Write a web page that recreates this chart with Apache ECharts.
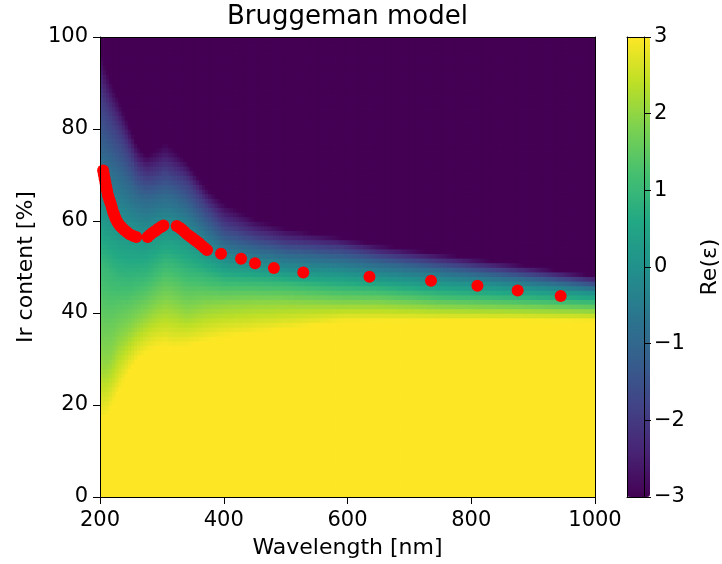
<!DOCTYPE html>
<html><head><meta charset="utf-8">
<script src="https://cdn.jsdelivr.net/npm/echarts@6/dist/echarts.min.js"></script>
<style>html,body{margin:0;padding:0;background:#fff}#chart{width:722px;height:564px}</style>
</head><body><div id="chart"></div>
<script>
// ---- axis / tick data ----
const xTickValues = [200, 400, 600, 800, 1000];
const yTickValues = [0, 20, 40, 60, 80, 100];
const colorbarTicks = [-3, -2, -1, 0, 1, 2, 3];

const levelValues = [3, 2, 1, 0, -1, -2, -3];
const sampleWavelengths = [200, 210, 220, 230, 245, 260, 275, 290, 305, 320, 340, 370, 400, 450, 500, 590, 650, 750, 870, 1000];
const irAtPlus3  = [17, 17.5, 20, 23, 27, 30, 31.5, 32.5, 33, 32.5, 33, 34, 35, 35.8, 36.7, 38.3, 38.4, 38.5, 38.5, 38.4];
const irAtPlus2  = [30, 29, 31, 34, 36, 38, 39.5, 41, 42, 41.5, 40.3, 41.5, 42, 42.3, 42.3, 42, 42, 41.3, 41, 40.5];
const irAtPlus1  = [51, 50, 48.5, 47.5, 47, 47.5, 48, 49.5, 51, 50.5, 49, 48, 47, 46.8, 46.5, 45.5, 45.2, 44, 43.3, 42.5];
const irAtZero   = [63, 62, 61, 60, 59, 58, 57.5, 58.5, 59, 58.5, 57.5, 54, 51.5, 50.5, 49.5, 49, 48, 47, 45.8, 44.5];
const irAtMinus1 = [75, 74, 72.5, 71, 68.5, 66, 65, 65.5, 66, 65.5, 63.5, 59, 55.5, 54, 53, 52, 51, 49.5, 47.8, 45.8];
const irAtMinus2 = [88, 85, 82.5, 80, 76, 71.5, 70, 70.5, 71.5, 70.5, 69, 64, 59.5, 57, 55.5, 54.5, 53, 51.3, 49.3, 47];
const irAtMinus3 = [97, 93, 89.5, 86.5, 81.5, 76.5, 74.3, 75.5, 77, 75.5, 73, 67.5, 64, 60.5, 58.5, 56.5, 55, 53, 50.8, 48.2];

// ---- red markers: wavelength [nm] and Ir content [%] ----
const dotWavelength = [205, 206.2, 207.5, 208.8, 210.2, 211.5, 212.9, 214.5, 216, 217.5, 219.2, 221, 222.8, 224.5, 226.3, 228.5, 231, 233.5, 236.5, 239.8, 243.5, 248, 253, 258.5,
  277, 281, 285.5, 290, 294, 298.5, 302.5,
  324, 328, 332, 336, 340, 344, 348, 352, 356, 360, 364, 368.5, 373,
  395.6, 428, 450.5, 481, 528.5, 635.5, 735, 810, 875, 944.5];
const dotIr = [71.0, 70.1, 69.2, 68.3, 67.4, 66.5, 65.6, 64.9, 64.3, 63.7, 62.9, 62.0, 61.4, 60.8, 60.2, 59.7, 59.2, 58.8, 58.4, 58.0, 57.6, 57.1, 56.8, 56.5,
  56.5, 57.0, 57.5, 57.9, 58.3, 58.7, 59.0,
  58.9, 58.6, 58.2, 57.7, 57.2, 56.8, 56.4, 56.0, 55.6, 55.2, 54.7, 54.2, 53.7,
  52.9, 51.8, 50.8, 49.8, 48.8, 47.9, 47.0, 45.9, 44.9, 43.7];

const viridis = ['#440154','#482475','#414487','#355f8d','#2a788e','#21918c','#22a884','#44bf70','#7ad151','#bddf26','#fde725'];
const FONT = 'DejaVu Sans';
const minus = s => String(s).replace('-', '\u2212');

// build cell table (5 nm x 1 % cells) from the contour readings
const contourRows = [irAtPlus3, irAtPlus2, irAtPlus1, irAtZero, irAtMinus1, irAtMinus2, irAtMinus3];
function atWavelength(arr, lam) {
  for (let i = 0; i < sampleWavelengths.length - 1; i++) {
    const a = sampleWavelengths[i], b = sampleWavelengths[i + 1];
    if (lam >= a && lam <= b) { const t = (lam - a) / (b - a); return arr[i] + t * (arr[i + 1] - arr[i]); }
  }
  return arr[arr.length - 1];
}
function valueAt(bounds, f) {
  if (f <= bounds[0]) return levelValues[0];
  for (let k = 0; k < bounds.length - 1; k++) {
    if (f <= bounds[k + 1]) { const t = (f - bounds[k]) / (bounds[k + 1] - bounds[k]); return levelValues[k] + t * (levelValues[k + 1] - levelValues[k]); }
  }
  return levelValues[levelValues.length - 1];
}
const cells = [];
for (let lam = 200; lam < 1000; lam += 5) {
  const bounds = contourRows.map(r => atWavelength(r, lam + 2.5));
  for (let ir = 0; ir < 100; ir++) cells.push([lam, ir, lam + 5, ir + 1, valueAt(bounds, ir + 0.5)]);
}
const dots = dotWavelength.map((w, i) => [w, dotIr[i]]);

const chart = echarts.init(document.getElementById('chart'), null, {renderer: 'canvas'});
const axisTxt = {fontFamily: FONT, fontSize: 21, color: '#000'};
const frameAxis = (extra) => Object.assign({type: 'value', z: 10,
  axisLine: {show: true, onZero: false, lineStyle: {color: '#000', width: 1}},
  axisTick: {show: false}, axisLabel: {show: false}, splitLine: {show: false}}, extra);
chart.setOption({
  animation: false,
  backgroundColor: '#fff',
  title: {text: 'Bruggeman model', left: 347.5, textAlign: 'center', top: 4, padding: 0,
    textStyle: {fontFamily: FONT, fontSize: 26, fontWeight: 'normal', color: '#000'}},
  grid: [
    {left: 100, top: 37, width: 495, height: 460},
    {left: 627, top: 37, width: 23, height: 460}
  ],
  visualMap: {type: 'continuous', min: -3, max: 3, dimension: 4, seriesIndex: 0,
    inRange: {color: viridis}, left: 627, top: 37, itemWidth: 23, itemHeight: 460,
    padding: 0, calculable: false, hoverLink: false, text: null},
  xAxis: [
    {gridIndex: 0, type: 'value', min: 200, max: 1000, interval: 200, z: 10,
      axisLine: {show: true, onZero: false, lineStyle: {color: '#000', width: 1}},
      axisTick: {show: true, length: 7, lineStyle: {color: '#000'}},
      axisLabel: Object.assign({margin: 13, formatter: v => String(v)}, axisTxt),
      splitLine: {show: false},
      name: 'Wavelength [nm]', nameLocation: 'middle', nameGap: 40,
      nameTextStyle: {fontFamily: FONT, fontSize: 22, color: '#000'}},
    frameAxis({gridIndex: 0, position: 'top', min: 200, max: 1000}),
    frameAxis({gridIndex: 1, position: 'bottom', min: 0, max: 1}),
    frameAxis({gridIndex: 1, position: 'top', min: 0, max: 1})
  ],
  yAxis: [
    {gridIndex: 0, type: 'value', min: 0, max: 100, interval: 20, z: 10,
      axisLine: {show: true, onZero: false, lineStyle: {color: '#000', width: 1}},
      axisTick: {show: true, length: 7, lineStyle: {color: '#000'}},
      axisLabel: Object.assign({margin: 12, formatter: v => String(v)}, axisTxt),
      splitLine: {show: false},
      name: 'Ir content [%]', nameLocation: 'middle', nameGap: 62, nameRotate: 90,
      nameTextStyle: {fontFamily: FONT, fontSize: 22, color: '#000'}},
    frameAxis({gridIndex: 0, position: 'right', min: 0, max: 100}),
    {gridIndex: 1, type: 'value', position: 'right', min: -3, max: 3, interval: 1, z: 10,
      axisLine: {show: true, onZero: false, lineStyle: {color: '#000', width: 1}},
      axisTick: {show: true, length: 7, lineStyle: {color: '#000'}},
      axisLabel: Object.assign({margin: 10, formatter: v => minus(v)}, axisTxt),
      splitLine: {show: false},
      name: 'Re(\u03b5)', nameLocation: 'middle', nameGap: 55, nameRotate: 90,
      nameTextStyle: {fontFamily: FONT, fontSize: 22, color: '#000'}},
    frameAxis({gridIndex: 1, position: 'left', min: -3, max: 3})
  ],
  series: [
    {type: 'custom', xAxisIndex: 0, yAxisIndex: 0, data: cells, encode: {x: [0, 2], y: [1, 3]}, silent: true, z: 1,
      renderItem: function (params, api) {
        const p0 = api.coord([api.value(0), api.value(3)]);
        const p1 = api.coord([api.value(2), api.value(1)]);
        const cs = params.coordSys;
        const rect = echarts.graphic.clipRectByRect(
          {x: p0[0], y: p0[1], width: p1[0] - p0[0] + 0.8, height: p1[1] - p0[1] + 0.8},
          {x: cs.x, y: cs.y, width: cs.width, height: cs.height});
        if (!rect) return;
        return {type: 'rect', shape: rect, style: {fill: api.visual('color')}};
      }},
    {type: 'scatter', xAxisIndex: 0, yAxisIndex: 0, data: dots, symbol: 'circle', symbolSize: 12,
      itemStyle: {color: '#ff0000', opacity: 1}, z: 5, silent: true}
  ]
});
</script></body></html>
